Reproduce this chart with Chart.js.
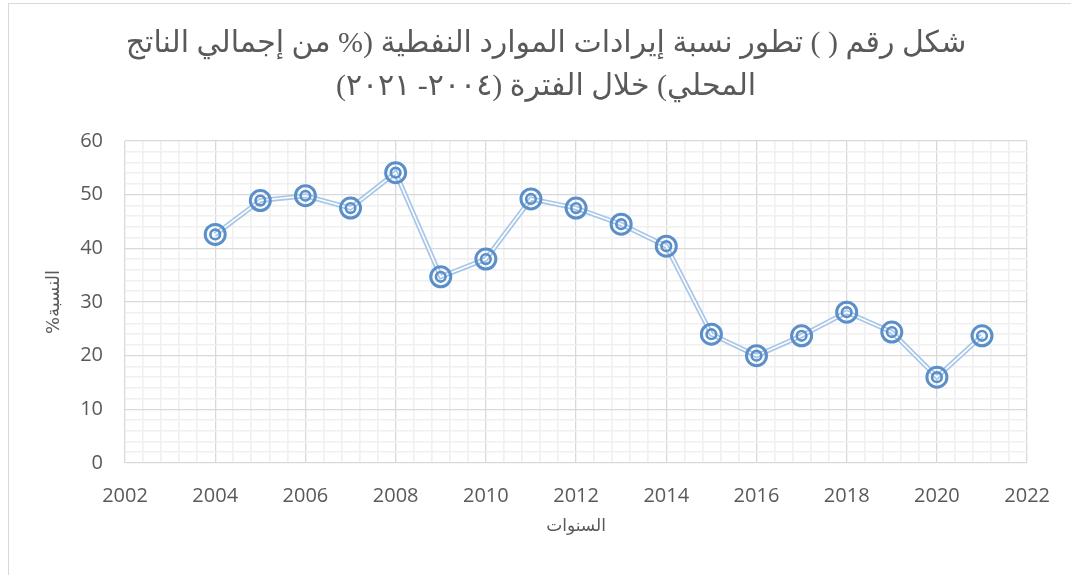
<!DOCTYPE html>
<html>
<head>
<meta charset="utf-8">
<script src="https://cdn.jsdelivr.net/npm/chart.js@4"></script>
<style>
  body { margin: 0; background: #fff; }
</style>
</head>
<body>
<canvas id="oilChart" width="1071" height="575" dir="rtl"></canvas>
<script>
// data
const years = [2004, 2005, 2006, 2007, 2008, 2009, 2010, 2011, 2012, 2013, 2014, 2015, 2016, 2017, 2018, 2019, 2020, 2021];
const oilShare = [42.6, 48.9, 49.8, 47.5, 54.1, 34.7, 38.0, 49.2, 47.5, 44.5, 40.4, 24.0, 20.0, 23.7, 28.1, 24.4, 16.0, 23.7];
const titleLines = [
  'شكل رقم ( ) تطور نسبة إيرادات الموارد النفطية (% من إجمالي الناتج',
  'المحلي) خلال الفترة (٢٠٠٤- ٢٠٢١)'
];
const xTitle = 'السنوات';
const yTitle = 'النسبة%';

const points = years.map((y, i) => ({ x: y, y: oilShare[i] }));

const isMultiple = (v, step) => Math.abs(v - Math.round(v / step) * step) < 1e-6;
const textColor = '#595959';
const tickFont = { family: "'Open Sans', 'Liberation Sans', sans-serif", size: 20 };

// light frame round the chart, like the office chart area border
const framePlugin = {
  id: 'frame',
  beforeDraw(chart) {
    const ctx = chart.ctx;
    ctx.save();
    ctx.strokeStyle = '#d9d9d9';
    ctx.lineWidth = 1;
    ctx.strokeRect(8.5, 3.5, 1200, 700);
    ctx.restore();
  },
  afterLayout(chart) {
    // the title sits a bit right of the canvas centre in the original
    chart.titleBlock.left += 27;
    chart.titleBlock.right += 27;
  }
};

new Chart(document.getElementById('oilChart'), {
  type: 'scatter',
  data: {
    datasets: [
      { // outer pale band of the double line
        data: points, showLine: true, borderColor: '#a7c6e8', borderWidth: 5,
        pointRadius: 0, order: 3
      },
      { // white core of the double line + outer marker ring
        data: points, showLine: true, borderColor: '#ffffff', borderWidth: 1.6,
        pointRadius: 10, pointBorderWidth: 3, pointBorderColor: '#5a8fca',
        pointBackgroundColor: 'rgba(255,255,255,0)', order: 2
      },
      { // inner marker ring
        data: points, showLine: false,
        pointRadius: 4.8, pointBorderWidth: 2.6, pointBorderColor: '#5a8fca',
        pointBackgroundColor: 'rgba(255,255,255,0)', order: 1
      }
    ]
  },
  options: {
    responsive: false,
    animation: false,
    layout: { padding: { left: 10, right: 43, top: 0, bottom: 0 } },
    plugins: {
      legend: { display: false },
      tooltip: { enabled: false },
      title: {
        display: true,
        text: titleLines,
        color: textColor,
        font: { family: "'Liberation Serif', 'DejaVu Sans', serif", size: 30, weight: 'normal', lineHeight: 1.45 },
        padding: { top: 22, bottom: 32 }
      }
    },
    scales: {
      x: {
        type: 'linear',
        min: 2002, max: 2022,
        afterFit(scale) { scale.height = 112; },
        ticks: {
          stepSize: 0.4, autoSkip: false, color: textColor, padding: 21,
          font: tickFont, maxRotation: 0,
          callback: v => isMultiple(v, 2) ? String(Math.round(v)) : ''
        },
        grid: {
          drawTicks: false,
          color: c => isMultiple(c.tick.value, 2) ? '#d9d9d9' : '#f0f0f0',
          lineWidth: c => isMultiple(c.tick.value, 2) ? 1.3 : 1.6
        },
        border: { display: false },
        title: {
          display: true, text: xTitle, color: textColor,
          font: { family: "'DejaVu Sans', sans-serif", size: 17 },
          padding: { bottom: 38 }
        }
      },
      y: {
        min: 0, max: 60,
        afterFit(scale) { scale.width = 115; },
        ticks: {
          stepSize: 2, autoSkip: false, color: textColor, padding: 22,
          font: tickFont,
          callback: v => isMultiple(v, 10) ? String(Math.round(v)) : ''
        },
        grid: {
          drawTicks: false,
          color: c => isMultiple(c.tick.value, 10) ? '#d9d9d9' : '#f0f0f0',
          lineWidth: c => isMultiple(c.tick.value, 10) ? 1.3 : 1.6
        },
        border: { display: false },
        title: {
          display: true, text: yTitle, color: textColor,
          font: { family: "'DejaVu Sans', sans-serif", size: 18 },
          padding: { top: 34 }
        }
      }
    }
  },
  plugins: [framePlugin]
});
</script>
</body>
</html>
